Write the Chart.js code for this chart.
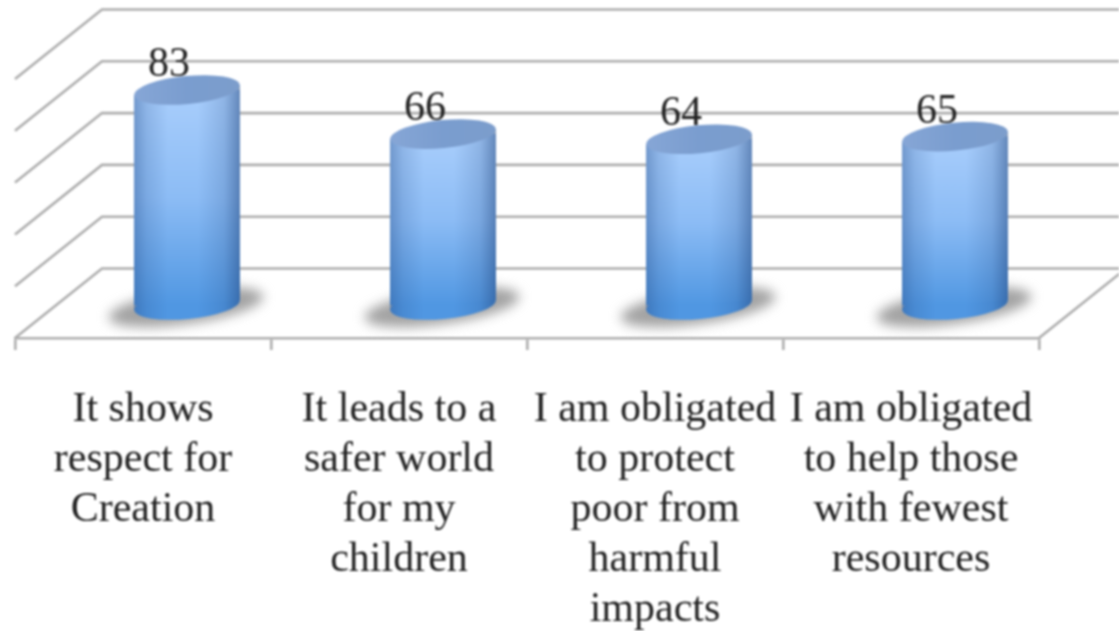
<!DOCTYPE html>
<html>
<head>
<meta charset="utf-8">
<style>
html,body{margin:0;padding:0;background:#fff;overflow:hidden}
canvas{display:block;filter:blur(0.9px)}
</style>
<script src="https://cdn.jsdelivr.net/npm/chart.js@4"></script>
</head>
<body>
<canvas id="c" width="1119" height="631"></canvas>
<script>
const categories = [
  ["It shows","respect for","Creation"],
  ["It leads to a","safer world","for my","children"],
  ["I am obligated","to protect","poor from","harmful","impacts"],
  ["I am obligated","to help those","with fewest","resources"]
];
const values = [83, 66, 64, 65];
const yTicks = [0, 20, 40, 60, 80, 100];

const FONT = '"Liberation Serif", serif';
const LINE = '#adadad';
const DEPTH_X = 87, DEPTH_Y = 69.5;   // wall offset from front plane
const BAR_DX = 44, BAR_DY = -33;      // bars stand mid-way in depth
const RX = 53, RY = 14, TILT = 5, ANGLE = -5.5 * Math.PI / 180;

function ellipseAt(ctx, x, y){ ctx.ellipse(x, y, RX, RY, ANGLE, 0, Math.PI * 2); }
function bodyPath(ctx, el){
  const l = el.x - RX, r = el.x + RX;
  ctx.moveTo(l, el.y + TILT);
  ctx.lineTo(r, el.y - TILT);
  ctx.lineTo(r, el.base - TILT);
  ctx.lineTo(l, el.base + TILT);
  ctx.closePath();
}

const cylinder = {
  id: 'cylinder',
  beforeDatasetsDraw(chart){
    const {ctx, scales:{x, y}} = chart;
    // walls and floor
    ctx.save();
    ctx.strokeStyle = LINE; ctx.lineWidth = 2.6; ctx.lineCap = 'butt';
    const L = x.left, R = x.right;
    y.ticks.forEach(t => {
      const py = y.getPixelForValue(t.value);
      ctx.beginPath();
      ctx.moveTo(L, py);
      ctx.lineTo(L + DEPTH_X, py - DEPTH_Y);
      ctx.lineTo(chart.width, py - DEPTH_Y);
      ctx.stroke();
    });
    const by = y.getPixelForValue(0);
    ctx.beginPath();
    ctx.moveTo(R, by);
    ctx.lineTo(R + DEPTH_X, by - DEPTH_Y);
    ctx.stroke();
    ctx.restore();

    const bars = chart.getDatasetMeta(0).data;
    // floor shadows
    ctx.save();
    ctx.translate(BAR_DX, BAR_DY);
    ctx.filter = 'blur(6px)';
    ctx.fillStyle = '#a2a2a2';
    bars.forEach(el => {
      ctx.beginPath();
      ctx.ellipse(el.x - 1, el.base + 2, 78, 17, -8 * Math.PI / 180, 0, Math.PI * 2);
      ctx.fill();
    });
    ctx.filter = 'none';
    // lower rims
    ctx.fillStyle = '#5097e2';
    bars.forEach(el => { ctx.beginPath(); ellipseAt(ctx, el.x, el.base); ctx.fill(); });
    // clip the library's bars to the tilted cylinder bodies
    ctx.beginPath();
    bars.forEach(el => bodyPath(ctx, el));
    ctx.clip();
  },
  afterDatasetsDraw(chart){
    const {ctx} = chart;
    ctx.restore();
    const bars = chart.getDatasetMeta(0).data;
    ctx.save();
    ctx.translate(BAR_DX, BAR_DY);
    bars.forEach((el, i) => {
      // side shading
      const g = ctx.createLinearGradient(el.x - RX, 0, el.x + RX, 0);
      g.addColorStop(0,    'rgba(40,80,140,0.42)');
      g.addColorStop(0.12, 'rgba(40,80,140,0.18)');
      g.addColorStop(0.32, 'rgba(40,80,140,0)');
      g.addColorStop(0.6,  'rgba(40,80,140,0)');
      g.addColorStop(0.85, 'rgba(35,70,125,0.18)');
      g.addColorStop(1,    'rgba(30,65,120,0.5)');
      ctx.fillStyle = g;
      ctx.beginPath();
      bodyPath(ctx, el);
      ellipseAt(ctx, el.x, el.base);
      ctx.fill();
      // top cap
      const c = ctx.createLinearGradient(el.x - RX, 0, el.x + RX, 0);
      c.addColorStop(0, '#86a6d6');
      c.addColorStop(0.5, '#7a9dcf');
      c.addColorStop(1, '#7c9dcc');
      ctx.fillStyle = c;
      ctx.beginPath(); ellipseAt(ctx, el.x, el.y); ctx.fill();
    });
    // value labels
    ctx.fillStyle = '#222222';
    ctx.font = '42px ' + FONT;
    ctx.textAlign = 'center';
    ctx.textBaseline = 'middle';
    bars.forEach((el, i) => ctx.fillText(String(values[i]), el.x - 18, el.y - 25));
    ctx.restore();
  }
};

new Chart(document.getElementById('c'), {
  type: 'bar',
  data: {
    labels: categories,
    datasets: [{
      data: values,
      clip: false,
      barThickness: RX * 2,
      borderWidth: 0,
      backgroundColor(context){
        const {chart, dataIndex} = context;
        const s = chart.scales.y;
        const fallback = '#7fb2ee';
        if (!s || dataIndex === undefined) return fallback;
        const y0 = s.getPixelForValue(values[dataIndex]), y1 = s.getPixelForValue(0);
        if (!Number.isFinite(y0) || !Number.isFinite(y1)) return fallback;
        const g = chart.ctx.createLinearGradient(0, y0, 0, y1);
        g.addColorStop(0, '#a9cefc');
        g.addColorStop(0.5, '#8cbcf5');
        g.addColorStop(1, '#5097e2');
        return g;
      }
    }]
  },
  options: {
    responsive: false,
    animation: false,
    layout: { padding: { left: 15, right: 80, top: 79, bottom: 0 } },
    plugins: { legend: { display: false }, tooltip: { enabled: false }, title: { display: false } },
    scales: {
      x: {
        grid: { drawOnChartArea: false, drawTicks: true, tickLength: 12, color: LINE, lineWidth: 2.6, offset: true },
        border: { color: LINE, width: 2.6 },
        afterFit(scale){ scale.height = 293; },
        ticks: {
          autoSkip: false, maxRotation: 0, minRotation: 0,
          color: '#222222', padding: 35,
          font: { family: FONT, size: 42, lineHeight: 1.19 }
        }
      },
      y: {
        display: false, min: 0, max: 100,
        afterBuildTicks(scale){ scale.ticks = yTicks.map(v => ({ value: v })); }
      }
    }
  },
  plugins: [cylinder]
});
</script>
</body>
</html>
